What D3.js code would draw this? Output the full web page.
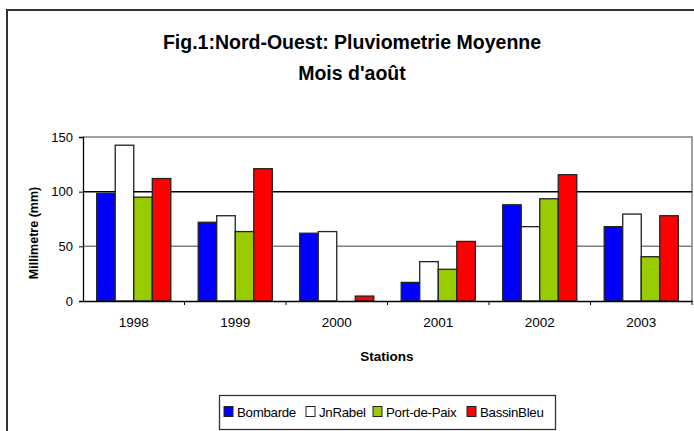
<!DOCTYPE html>
<html lang="en">

<head>
    <meta charset="UTF-8">
    <title>Pluviometrie Moyenne</title>
    <script src="https://d3js.org/d3.v7.min.js"></script>
    <style>
        body {
            margin: 0;
            background: #fff;
        }

        text {
            font-family: "Liberation Sans", Arial, sans-serif;
            fill: #000;
        }
    </style>
</head>

<body>
    <div id="chart"></div>
    <script>
        // data
        var years = ["1998", "1999", "2000", "2001", "2002", "2003"];
        var stations = ["Bombarde", "JnRabel", "Port-de-Paix", "BassinBleu"];
        var bombarde = [98.5, 72, 62, 17, 88, 68];
        var jnRabel = [142.5, 78, 63.5, 36, 68, 79.5];
        var portDePaix = [95, 63.5, 0, 29, 93.5, 40.5];
        var bassinBleu = [112, 121, 4.5, 54.5, 115.5, 78];
        var yTicks = [0, 50, 100, 150];
        var colors = ["#0000ff", "#ffffff", "#99cc00", "#ff0000"];

        var series = [bombarde, jnRabel, portDePaix, bassinBleu];

        var W = 694, H = 431;
        var plot = { left: 83, right: 692, top: 137, bottom: 301 };

        var svg = d3.select("#chart").append("svg")
            .attr("width", W)
            .attr("height", H);

        // outer frame (right and bottom run off the picture)
        svg.append("rect")
            .attr("x", 7).attr("y", 10)
            .attr("width", W + 10).attr("height", H + 10)
            .attr("fill", "none")
            .attr("stroke", "#333")
            .attr("stroke-width", 2);

        // titles
        svg.append("text")
            .attr("x", 352).attr("y", 49)
            .attr("text-anchor", "middle")
            .style("font-size", "19.5px").style("font-weight", "bold")
            .text("Fig.1:Nord-Ouest: Pluviometrie Moyenne");
        svg.append("text")
            .attr("x", 352).attr("y", 80)
            .attr("text-anchor", "middle")
            .style("font-size", "19.5px").style("font-weight", "bold")
            .text("Mois d'août");

        var x = d3.scaleBand()
            .domain(years)
            .range([plot.left, plot.right]);

        var xInner = d3.scaleBand()
            .domain(stations)
            .range([0, x.bandwidth() * 0.73])
            .padding(0);

        var y = d3.scaleLinear()
            .domain([0, 150])
            .range([plot.bottom, plot.top]);

        // plot area border (top + right, gray)
        svg.append("path")
            .attr("d", "M" + plot.left + "," + plot.top + "H" + plot.right + "V" + plot.bottom)
            .attr("fill", "none")
            .attr("stroke", "#808080")
            .attr("stroke-width", 1.5);

        // gridlines: 100 is black, 50 is gray
        svg.selectAll(".grid")
            .data([50, 100])
            .enter().append("line")
            .attr("class", "grid")
            .attr("x1", plot.left).attr("x2", plot.right)
            .attr("y1", function (d) { return y(d); })
            .attr("y2", function (d) { return y(d); })
            .attr("stroke", function (d) { return d === 100 ? "#000" : "#808080"; })
            .attr("stroke-width", 1.5);

        // bars
        var offset = (x.bandwidth() - x.bandwidth() * 0.73) / 2;
        var groups = svg.selectAll(".grp")
            .data(series)
            .enter().append("g")
            .attr("class", "grp");

        groups.each(function (vals, si) {
            d3.select(this).selectAll("rect")
                .data(vals)
                .enter().append("rect")
                .attr("x", function (d, i) { return x(years[i]) + offset + xInner(stations[si]); })
                .attr("y", function (d) { return y(d); })
                .attr("width", xInner.bandwidth())
                .attr("height", function (d) { return y(0) - y(d); })
                .attr("fill", colors[si])
                .attr("stroke", "#222")
                .attr("stroke-width", function (d) { return d > 0 ? 1.3 : 0; });
        });

        // y axis
        var yAxis = svg.append("g")
            .attr("transform", "translate(" + plot.left + ",0)")
            .call(d3.axisLeft(y).tickValues(yTicks).tickSize(4).tickPadding(6));
        yAxis.select(".domain").attr("stroke", "#000").attr("stroke-width", 1.3);
        yAxis.selectAll(".tick line").attr("stroke", "#000");
        yAxis.selectAll("text")
            .style("font-size", "13px")
            .style("font-family", "'Liberation Sans', Arial, sans-serif");

        // x axis, ticks between categories
        var xAxis = svg.append("g")
            .attr("transform", "translate(0," + plot.bottom + ")")
            .call(d3.axisBottom(x).tickSize(0).tickPadding(16).tickSizeOuter(0));
        xAxis.select(".domain").attr("stroke", "#000").attr("stroke-width", 1.3);
        xAxis.selectAll("text")
            .style("font-size", "13.5px")
            .style("font-family", "'Liberation Sans', Arial, sans-serif");
        xAxis.selectAll(".sep")
            .data(years.slice(1).concat(["end"]))
            .enter().append("line")
            .attr("class", "sep")
            .attr("x1", function (d, i) { return plot.left + x.step() * (i + 1); })
            .attr("x2", function (d, i) { return plot.left + x.step() * (i + 1); })
            .attr("y1", 0).attr("y2", 4)
            .attr("stroke", "#000");

        // axis titles
        svg.append("text")
            .attr("transform", "translate(38,233) rotate(-90)")
            .attr("text-anchor", "middle")
            .style("font-size", "12.5px").style("font-weight", "bold")
            .text("Millimetre (mm)");
        svg.append("text")
            .attr("x", 387).attr("y", 361)
            .attr("text-anchor", "middle")
            .style("font-size", "13.5px").style("font-weight", "bold")
            .text("Stations");

        // legend
        var legend = svg.append("g");
        legend.append("rect")
            .attr("x", 219.5).attr("y", 395.5)
            .attr("width", 336).attr("height", 34)
            .attr("fill", "#fff")
            .attr("stroke", "#333")
            .attr("stroke-width", 1.3);
        var legX = [224, 306, 373, 467];
        stations.forEach(function (s, i) {
            legend.append("rect")
                .attr("x", legX[i]).attr("y", 406.5)
                .attr("width", 9).attr("height", 10)
                .attr("fill", colors[i])
                .attr("stroke", "#222");
            legend.append("text")
                .attr("x", legX[i] + 13).attr("y", 416.5)
                .style("font-size", "13.3px")
                .style("letter-spacing", "-0.3px")
                .text(s);
        });
    </script>
</body>

</html>
